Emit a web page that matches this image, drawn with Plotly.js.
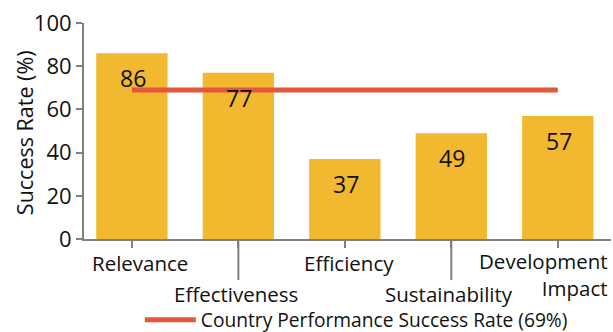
<!DOCTYPE html>
<html>
<head>
<meta charset="utf-8">
<script src="https://cdn.plot.ly/plotly-3.0.1.min.js"></script>
<style>
  html, body { margin: 0; padding: 0; background: #fff; }
  #chart { width: 613px; height: 332px; }
</style>
</head>
<body>
<div id="chart"></div>
<script>
// Evaluation criteria and their success rates (%)
const categories = ["Relevance", "Effectiveness", "Efficiency", "Sustainability", "Development Impact"];
const tickLabels = ["Relevance", "Effectiveness", "Efficiency", "Sustainability", "Development<br>Impact"];
const successRates = [86, 77, 37, 49, 57];
const countryRate = 69;
const countryLabel = "Country Performance Success Rate (69%)";

const FONT = "'Open Sans', Lato, sans-serif";
const BAR_COLOR = "#F2B830";
const LINE_COLOR = "#E5573A";
const AXIS_COLOR = "#7f7f7f";

// Staggered category labels: odd entries sit on a second row below a long tick
const labelStyle = [
  { row: 0, xshift: 8, yshift: -8, anchor: "center", align: "center" },
  { row: 1, xshift: -2, yshift: -39, anchor: "center", align: "center" },
  { row: 0, xshift: 4, yshift: -8, anchor: "center", align: "center" },
  { row: 1, xshift: -2, yshift: -39, anchor: "center", align: "center" },
  { row: 0, xshift: 52, yshift: -6, anchor: "right", align: "right" }
];

const bars = {
  type: "bar",
  x: categories,
  y: successRates,
  marker: { color: BAR_COLOR },
  showlegend: false,
  hoverinfo: "skip"
};

const benchmark = {
  type: "scatter",
  mode: "lines",
  x: categories,
  y: categories.map(() => countryRate),
  name: countryLabel,
  line: { color: LINE_COLOR, width: 5 },
  hoverinfo: "skip"
};

const annotations = [];
// Value labels inside the top of each bar
categories.forEach((c, i) => {
  annotations.push({
    x: c, y: successRates[i], xref: "x", yref: "y",
    text: String(successRates[i]), showarrow: false,
    yanchor: "middle", yshift: -25, xshift: 1,
    font: { family: FONT, size: 23, color: "#111" }
  });
});
// Category labels under the axis
categories.forEach((c, i) => {
  const s = labelStyle[i];
  annotations.push({
    x: c, y: 0, xref: "x", yref: "y",
    text: tickLabels[i], showarrow: false,
    xanchor: s.anchor, align: s.align,
    yanchor: "top", yshift: s.yshift, xshift: s.xshift,
    font: { family: FONT, size: 20.5, color: "#111" }
  });
});
// Y-axis title
annotations.push({
  xref: "paper", yref: "paper", x: 0, y: 0.49,
  xanchor: "center", yanchor: "middle", xshift: -60,
  text: "Success Rate (%)", textangle: -90, showarrow: false,
  font: { family: FONT, size: 21.5, color: "#111" }
});

// Long ticks for the second-row labels
const shapes = categories.filter((_, i) => labelStyle[i].row === 1).map(c => ({
  type: "line", xref: "x", yref: "paper",
  x0: c, x1: c, y0: 0, y1: -0.19,
  line: { color: AXIS_COLOR, width: 2 }
}));

const layout = {
  width: 613, height: 332,
  margin: { l: 84, r: 2, t: 23, b: 93, autoexpand: false },
  paper_bgcolor: "#fff", plot_bgcolor: "#fff",
  font: { family: FONT, color: "#111" },
  bargap: 0.33,
  xaxis: {
    type: "category",
    range: [-0.45, 4.5],
    showticklabels: false,
    ticks: "outside", ticklen: 7, tickwidth: 2, tickcolor: AXIS_COLOR,
    showline: true, linecolor: AXIS_COLOR, linewidth: 2,
    showgrid: false, zeroline: false, fixedrange: true
  },
  yaxis: {
    range: [0, 100],
    tickvals: [0, 20, 40, 60, 80, 100],
    ticks: "outside", ticklen: 6, tickwidth: 2, tickcolor: AXIS_COLOR,
    tickfont: { family: FONT, size: 22, color: "#111" },
    showline: true, linecolor: AXIS_COLOR, linewidth: 2,
    showgrid: false, zeroline: false, fixedrange: true
  },
  showlegend: true,
  legend: {
    orientation: "h",
    x: 0.106, xanchor: "left",
    y: -0.374, yanchor: "middle",
    itemwidth: 51,
    font: { family: FONT, size: 19.2, color: "#111" },
    bgcolor: "rgba(0,0,0,0)"
  },
  annotations: annotations,
  shapes: shapes
};

Plotly.newPlot("chart", [bars, benchmark], layout, { displayModeBar: false, staticPlot: true });
</script>
</body>
</html>
